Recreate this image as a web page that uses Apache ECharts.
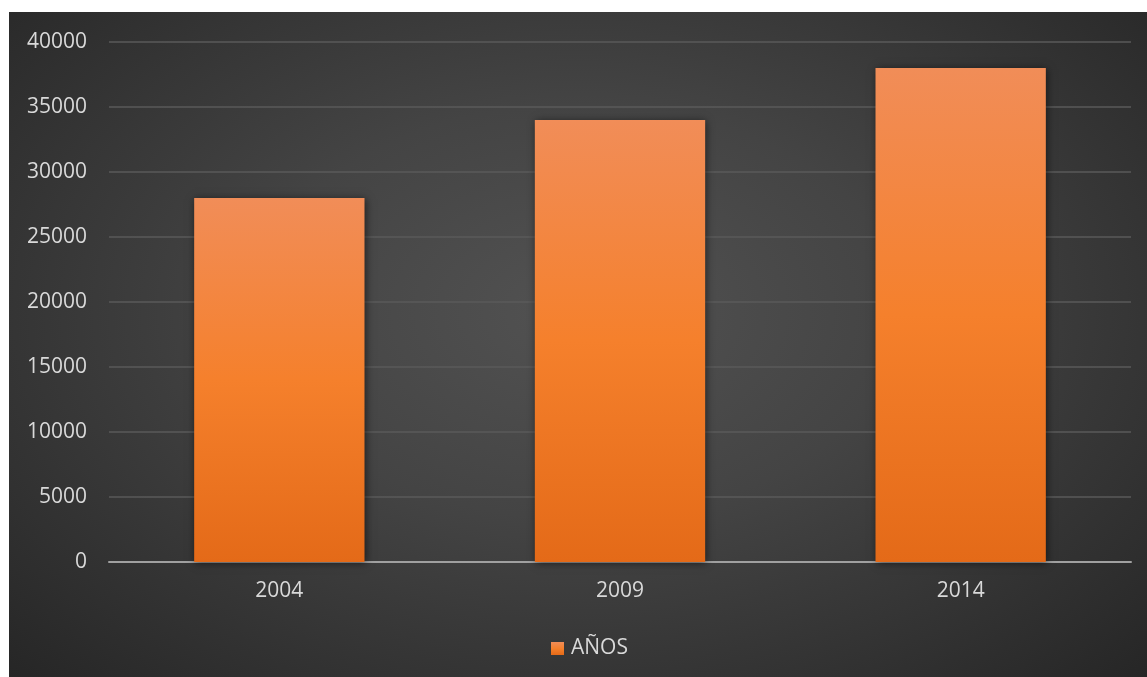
<!DOCTYPE html>
<html>
<head>
<meta charset="utf-8">
<script src="https://cdn.jsdelivr.net/npm/echarts@6/dist/echarts.min.js"></script>
<style>
html,body{margin:0;padding:0;background:#ffffff;width:1147px;height:677px;overflow:hidden;}
#bg{position:absolute;left:9px;top:12px;width:1138px;height:665px;
background:radial-gradient(ellipse at 50% 45%, #525252 0%, #444444 40%, #262626 100%);}
#chart{position:absolute;left:0;top:0;width:1147px;height:677px;}
</style>
</head>
<body>
<div id="bg"></div>
<div id="chart"></div>
<script>
var categories = ['2004', '2009', '2014'];
var seriesName = 'AÑOS';
var values = [28000, 34000, 38000];

var chart = echarts.init(document.getElementById('chart'), null, {renderer: 'canvas'});
var font = '"Open Sans", "Noto Sans", sans-serif';
chart.setOption({
  backgroundColor: 'transparent',
  animation: false,
  textStyle: {fontFamily: font},
  grid: {left: 109, right: 16, top: 42, bottom: 115, containLabel: false},
  legend: {
    data: [seriesName],
    top: 633,
    left: 546,
    itemWidth: 13,
    itemHeight: 13,
    itemGap: 6,
    icon: 'rect',
    textStyle: {color: '#d9d9d9', fontSize: 21, fontFamily: font, padding: [0, 0, 0, 2]}
  },
  xAxis: {
    type: 'category',
    data: categories,
    axisLine: {show: true, lineStyle: {color: '#a0a0a0', width: 2}},
    axisTick: {show: false},
    axisLabel: {color: '#d9d9d9', fontSize: 21, margin: 19, fontFamily: font},
    splitLine: {show: false}
  },
  yAxis: {
    type: 'value',
    min: 0,
    max: 40000,
    interval: 5000,
    axisLine: {show: false},
    axisTick: {show: false},
    axisLabel: {color: '#d9d9d9', fontSize: 21, margin: 22, fontFamily: font,
      formatter: function (v) { return String(v); }},
    splitLine: {lineStyle: {color: '#5a5a5a', width: 1.5}}
  },
  series: [{
    name: seriesName,
    type: 'bar',
    data: values,
    barWidth: '50%',
    itemStyle: {
      color: new echarts.graphic.LinearGradient(0, 0, 0, 1, [
        {offset: 0, color: '#f18d58'},
        {offset: 0.5, color: '#f5802c'},
        {offset: 1, color: '#e46a18'}
      ]),
      shadowBlur: 8,
      shadowColor: 'rgba(0,0,0,0.55)',
      shadowOffsetX: 1,
      shadowOffsetY: 1
    }
  }]
});
</script>
</body>
</html>
